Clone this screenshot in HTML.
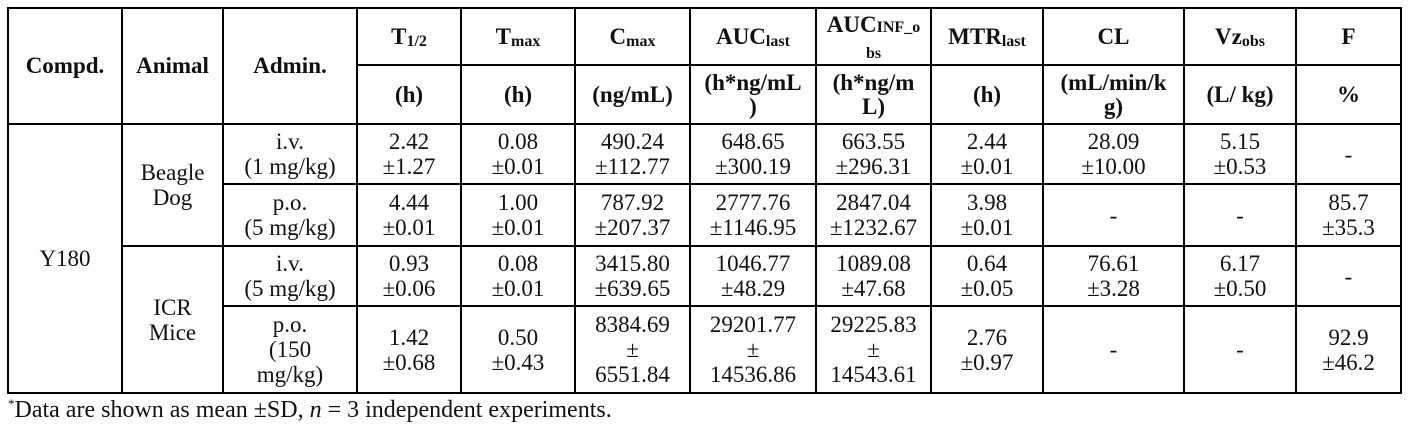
<!DOCTYPE html>
<html><head><meta charset="utf-8"><style>
html,body{margin:0;padding:0;background:#fff;width:1410px;height:430px;overflow:hidden}
table{position:absolute;left:7px;top:7px;border-collapse:collapse;table-layout:fixed;font-family:"Liberation Serif",serif;font-size:23px;color:#111}
td{border:2px solid #000;text-align:center;vertical-align:middle;padding:0;line-height:25px;overflow:hidden;white-space:nowrap}
.h{font-weight:bold;font-size:23px;line-height:24px}
sub{font-size:16px;vertical-align:baseline;position:relative;top:2px;line-height:0}
.note{position:absolute;left:8px;top:397px;font-family:"Liberation Serif",serif;font-size:24px;color:#111;white-space:nowrap}
.note sup{font-size:13px;line-height:0}
</style></head><body>
<table>
<colgroup><col style="width:114px"><col style="width:101px"><col style="width:134px"><col style="width:104px"><col style="width:114px"><col style="width:115px"><col style="width:126px"><col style="width:115px"><col style="width:112px"><col style="width:141px"><col style="width:112px"><col style="width:105px"></colgroup>
<tr style="height:57px"><td class="h" rowspan="2">Compd.</td><td class="h" rowspan="2">Animal</td><td class="h" rowspan="2">Admin.</td>
<td class="h">T<sub>1/2</sub></td><td class="h">T<sub>max</sub></td><td class="h">C<sub>max</sub></td><td class="h">AUC<sub>last</sub></td><td class="h">AUC<sub style="top:0">INF_o</sub><br><sub>bs</sub></td><td class="h">MTR<sub>last</sub></td><td class="h">CL</td><td class="h">Vz<sub>obs</sub></td><td class="h">F</td></tr>
<tr style="height:59px"><td class="h">(h)</td><td class="h">(h)</td><td class="h">(ng/mL)</td><td class="h">(h*ng/mL<br>)</td><td class="h">(h*ng/m<br>L)</td><td class="h">(h)</td><td class="h">(mL/min/k<br>g)</td><td class="h">(L/ kg)</td><td class="h">%</td></tr>
<tr style="height:60px"><td rowspan="4">Y180</td><td rowspan="2">Beagle<br>Dog</td><td>i.v.<br>(1 mg/kg)</td><td>2.42<br>±1.27</td><td>0.08<br>±0.01</td><td>490.24<br>±112.77</td><td>648.65<br>±300.19</td><td>663.55<br>±296.31</td><td>2.44<br>±0.01</td><td>28.09<br>±10.00</td><td>5.15<br>±0.53</td><td>-</td></tr>
<tr style="height:62px"><td>p.o.<br>(5 mg/kg)</td><td>4.44<br>±0.01</td><td>1.00<br>±0.01</td><td>787.92<br>±207.37</td><td>2777.76<br>±1146.95</td><td>2847.04<br>±1232.67</td><td>3.98<br>±0.01</td><td>-</td><td>-</td><td>85.7<br>±35.3</td></tr>
<tr style="height:60px"><td rowspan="2">ICR<br>Mice</td><td>i.v.<br>(5 mg/kg)</td><td>0.93<br>±0.06</td><td>0.08<br>±0.01</td><td>3415.80<br>±639.65</td><td>1046.77<br>±48.29</td><td>1089.08<br>±47.68</td><td>0.64<br>±0.05</td><td>76.61<br>±3.28</td><td>6.17<br>±0.50</td><td>-</td></tr>
<tr style="height:87px"><td>p.o.<br>(150<br>mg/kg)</td><td>1.42<br>±0.68</td><td>0.50<br>±0.43</td><td>8384.69<br>±<br>6551.84</td><td>29201.77<br>±<br>14536.86</td><td>29225.83<br>±<br>14543.61</td><td>2.76<br>±0.97</td><td>-</td><td>-</td><td>92.9<br>±46.2</td></tr>
</table>
<div class="note"><sup>*</sup>Data are shown as mean ±SD, <i>n</i> = 3 independent experiments.</div>
</body></html>
